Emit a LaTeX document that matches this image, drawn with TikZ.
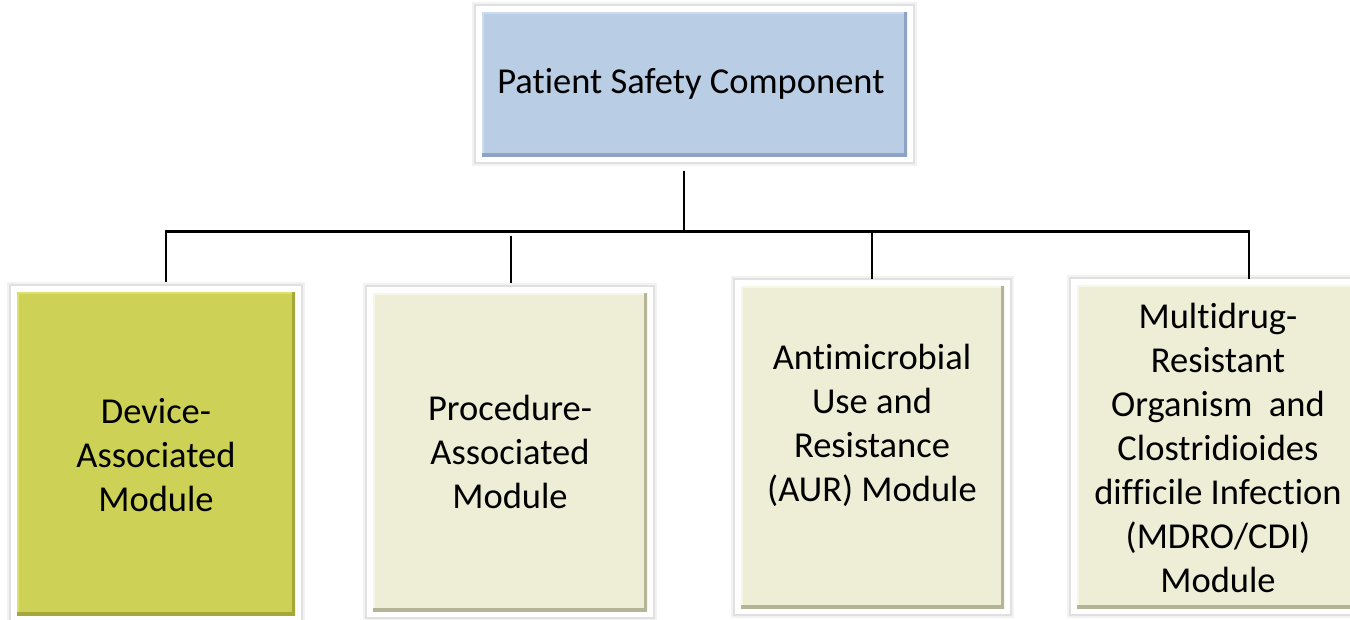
\documentclass[tikz,border=0pt]{standalone}
\usepackage{fontspec}
\setmainfont{Carlito}[Ligatures={NoCommon}, RawFeature={-liga,-clig,-calt}]
\usetikzlibrary{backgrounds}
\definecolor{topfill}{HTML}{B9CDE4}
\definecolor{topdark}{HTML}{8EA2C4}
\definecolor{toplight}{HTML}{CCDBEE}
\definecolor{devfill}{HTML}{CDD155}
\definecolor{devdark}{HTML}{A4A838}
\definecolor{devlight}{HTML}{DCE06A}
\definecolor{crfill}{HTML}{EEEED6}
\definecolor{crdark}{HTML}{B4B496}
\definecolor{crlight}{HTML}{F6F6E6}
\tikzset{
  bevelbox/.style n args={3}{rectangle, inner sep=0pt, fill=#1,
    path picture={
      \draw[line width=4pt, #3] (path picture bounding box.south west) -- (path picture bounding box.north west) -- (path picture bounding box.north east);
      \draw[line width=7pt, #2] (path picture bounding box.south west) -- (path picture bounding box.south east) -- (path picture bounding box.north east);
    }},
  txt/.style={align=center, inner sep=0pt, font=\fontsize{36.5}{44}\selectfont},
  conn/.style={draw=black, line width=2.2pt},
  frame/.style={fill=white, draw=black!12, line width=1.6pt,
    preaction={draw=black!5, line width=5pt}}
}
\begin{document}
\begin{tikzpicture}[x=1pt,y=-1pt]
\useasboundingbox (0,0) rectangle (1350,619);
\clip (0,0) rectangle (1350,619);
% boxes
\node[bevelbox={topfill}{topdark}{toplight}, minimum width=425pt, minimum height=144pt] (top) at (694.5,84) {};
\node[bevelbox={devfill}{devdark}{devlight}, minimum width=278pt, minimum height=323pt] (b1) at (156,453.5) {};
\node[bevelbox={crfill}{crdark}{crlight}, minimum width=274pt, minimum height=318pt] (b2) at (510,452) {};
\node[bevelbox={crfill}{crdark}{crlight}, minimum width=263pt, minimum height=322pt] (b3) at (872.5,447) {};
\node[bevelbox={crfill}{crdark}{crlight}, minimum width=290pt, minimum height=323pt] (b4) at (1222,446.5) {};
% frames behind
\begin{scope}[on background layer]
\foreach \n in {top,b1,b2,b3,b4}
  \path[frame] ([shift={(-7,7)}]\n.south west) rectangle ([shift={(7,-7)}]\n.north east);
\end{scope}
% texts
\node[txt] (t0) at (691,84) {Patient Safety Component};
\node[txt] (t1) at (156,455) {Device-\\Associated\\Module};
\node[txt] (t2) at (510,452) {Procedure-\\Associated\\Module};
\node[txt] (t3) at (872,425) {Antimicrobial\\Use and\\Resistance\\(AUR) Module};
\node[txt] (t4) at (1218,448) {Multidrug-\\Resistant\\Organism\ \ and\\Clostridioides\\difficile Infection\\(MDRO/CDI)\\Module};
% connectors
\coordinate (j0) at (684,231.5);
\coordinate (h1) at (166,231.5);
\coordinate (h2) at (511,231.5);
\coordinate (h3) at (872,231.5);
\coordinate (h4) at (1249,231.5);
\draw[conn, shorten <=14.5pt] (j0 |- top.south) -- (j0);
\draw[conn, line cap=rect] (h1) -- (h4);
\draw[conn, shorten >=10pt] (h1) -- (h1 |- b1.north);
\draw[conn, shorten >=10pt] ([yshift=-4pt]h2) -- (h2 |- b2.north);
\draw[conn, shorten >=7pt] (h3) -- (h3 |- b3.north);
\draw[conn, shorten >=6pt] (h4) -- (h4 |- b4.north);
\end{tikzpicture}
\end{document}
